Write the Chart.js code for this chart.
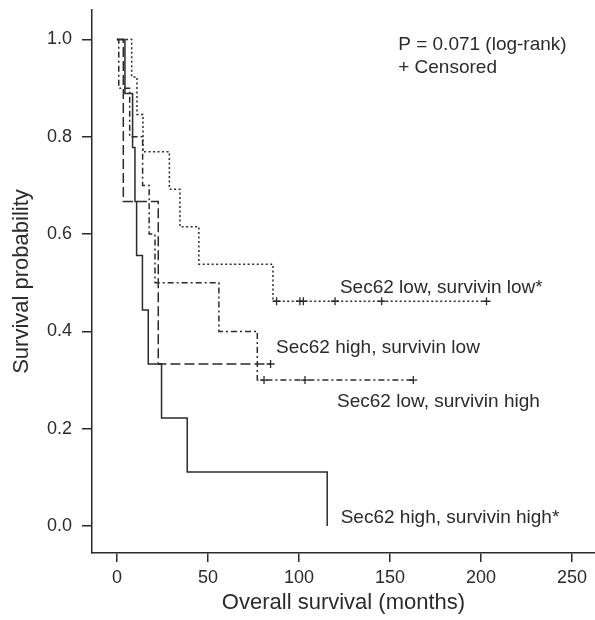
<!DOCTYPE html>
<html>
<head>
<meta charset="utf-8">
<script src="https://cdn.jsdelivr.net/npm/chart.js@4.4.1/dist/chart.umd.min.js"></script>
<style>
  body { margin: 0; background: #fff; }
</style>
</head>
<body>
<canvas id="km" width="595" height="620"></canvas>
<script>
// Kaplan-Meier steps (months, survival probability)
const hhTimes = [0, 4.4, 8.6, 9.9, 10.8, 14.0, 17.2, 24.5, 38.6, 115.5];
const hhSurv  = [1, 0.889, 0.778, 0.667, 0.556, 0.444, 0.333, 0.222, 0.111, 0];

const hlTimes = [0, 3.5, 22.7, 84.4];
const hlSurv  = [1, 0.667, 0.333, 0.333];
const hlCensT = [84.4];
const hlCensS = [0.333];

const llTimes = [0, 8.1, 11.0, 14.3, 28.8, 34.6, 45.0, 85.7, 203];
const llSurv  = [1, 0.923, 0.846, 0.769, 0.692, 0.615, 0.538, 0.462, 0.462];
const llCensT = [87.7, 100.5, 102.4, 119.8, 145.4, 203];
const llCensS = [0.462, 0.462, 0.462, 0.462, 0.462, 0.462];

const lhTimes = [0, 1.0, 7.0, 14.1, 17.7, 20.9, 56.0, 77.1, 162.8];
const lhSurv  = [1, 0.9, 0.8, 0.7, 0.6, 0.5, 0.4, 0.3, 0.3];
const lhCensT = [80.8, 103.3, 162.8];
const lhCensS = [0.3, 0.3, 0.3];

const xTicks = [0, 50, 100, 150, 200, 250];
const yTicks = [0, 0.2, 0.4, 0.6, 0.8, 1.0];

const ink = '#2b2b2b';
const sans = '"Liberation Sans", Arial, sans-serif';

function pts(xs, ys) {
  return xs.map((x, i) => ({ x: x, y: ys[i] }));
}

function curve(xs, ys, dash) {
  return {
    data: pts(xs, ys),
    borderColor: ink,
    borderWidth: 1.5,
    borderDash: dash,
    stepped: 'before',
    pointRadius: 0,
    fill: false
  };
}

function censored(xs, ys) {
  return {
    data: pts(xs, ys),
    showLine: false,
    pointStyle: 'cross',
    pointRadius: 4,
    pointBorderWidth: 1.3,
    borderColor: ink
  };
}

// text notes, placed in data units
const notes = [
  { text: 'P = 0.071 (log-rank)', x: 154.5, y: 0.99 },
  { text: '+ Censored', x: 154.5, y: 0.942 },
  { text: 'Sec62 low, survivin low*', x: 122.5, y: 0.489 },
  { text: 'Sec62 high, survivin low', x: 87.4, y: 0.366 },
  { text: 'Sec62 low, survivin high', x: 120.9, y: 0.255 },
  { text: 'Sec62 high, survivin high*', x: 122.9, y: 0.016 }
];

const notesPlugin = {
  id: 'notes',
  afterDatasetsDraw(chart) {
    const ctx = chart.ctx;
    const xs = chart.scales.x, ys = chart.scales.y;
    ctx.save();
    ctx.fillStyle = ink;
    ctx.font = '19px ' + sans;
    ctx.textAlign = 'left';
    ctx.textBaseline = 'middle';
    notes.forEach(n => {
      ctx.fillText(n.text, xs.getPixelForValue(n.x), ys.getPixelForValue(n.y));
    });
    ctx.restore();
  }
};

new Chart(document.getElementById('km'), {
  type: 'line',
  data: {
    datasets: [
      curve(hhTimes, hhSurv, []),
      curve(hlTimes, hlSurv, [10, 4]),
      curve(llTimes, llSurv, [2, 2.5]),
      curve(lhTimes, lhSurv, [6, 3, 2, 3]),
      censored(hlCensT, hlCensS),
      censored(llCensT, llCensS),
      censored(lhCensT, lhCensS)
    ]
  },
  options: {
    responsive: false,
    animation: false,
    layout: { autoPadding: false, padding: { top: 10, right: 0, left: 0, bottom: 0 } },
    plugins: { legend: { display: false }, tooltip: { enabled: false } },
    scales: {
      x: {
        type: 'linear',
        min: -13.7,
        max: 262.6,
        afterBuildTicks: s => { s.ticks = xTicks.map(v => ({ value: v })); },
        afterFit: s => { s.height = 67; s.paddingLeft = 0; s.paddingRight = 0; },
        ticks: { color: ink, font: { family: sans, size: 18 }, padding: 5 },
        grid: { drawOnChartArea: false, drawTicks: true, tickLength: 9, color: ink, lineWidth: 1.5 },
        border: { color: ink, width: 1.5 },
        title: { display: true, text: 'Overall survival (months)', color: ink,
                 font: { family: sans, size: 22 }, padding: { top: 0, bottom: 4 } }
      },
      y: {
        type: 'linear',
        min: -0.0555,
        max: 1.0606,
        afterBuildTicks: s => { s.ticks = yTicks.map(v => ({ value: v })); },
        afterFit: s => { s.width = 92; s.paddingTop = 0; s.paddingBottom = 0; },
        ticks: { color: ink, font: { family: sans, size: 18 }, padding: 10,
                 callback: v => v.toFixed(1) },
        grid: { drawOnChartArea: false, drawTicks: true, tickLength: 10, color: ink, lineWidth: 1.5 },
        border: { color: ink, width: 1.5 },
        title: { display: true, text: 'Survival probability', color: ink,
                 font: { family: sans, size: 22 }, padding: { top: 9, bottom: 0 } }
      }
    }
  },
  plugins: [notesPlugin]
});
</script>
</body>
</html>
